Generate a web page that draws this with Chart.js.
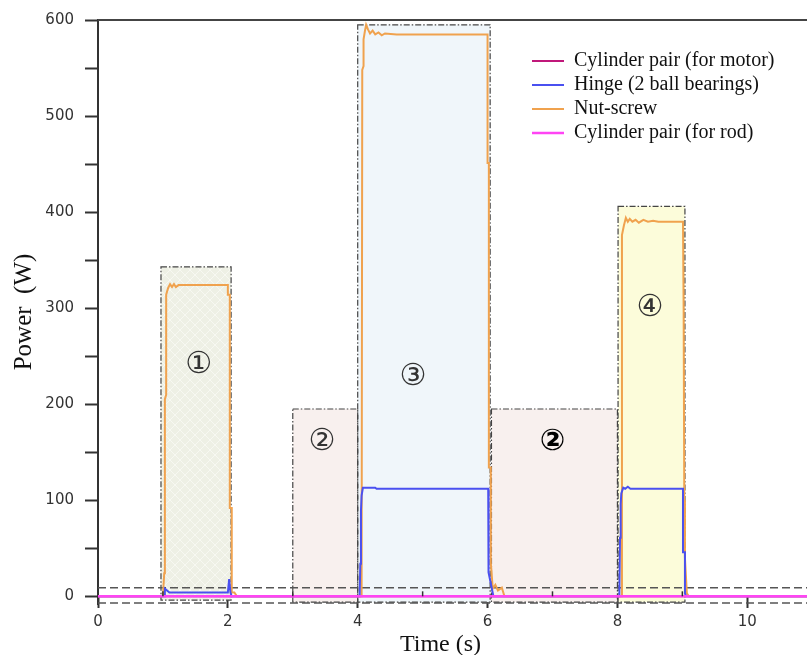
<!DOCTYPE html>
<html>
<head>
<meta charset="utf-8">
<script src="https://cdn.jsdelivr.net/npm/chart.js@4.4.1/dist/chart.umd.min.js"></script>
<style>
  html, body { margin: 0; padding: 0; background: #fff; }
  #wrap { width: 807px; height: 655px; }
</style>
</head>
<body>
<div id="wrap"><canvas id="powerChart"></canvas></div>
<script>
// === Data ===
const seriesNames = ['Cylinder pair (for motor)', 'Hinge (2 ball bearings)', 'Nut-screw', 'Cylinder pair (for rod)'];

const motorTime = [0, 10.92];
const motorPower = [0, 0];

const hingeTime = [0, 1.02, 1.03, 1.1, 2.0, 2.02, 2.04, 2.06,
  4.03, 4.04, 4.05, 4.06, 4.08, 4.27, 4.29, 6.01, 6.01, 6.02, 6.09,
  8.03, 8.04, 8.05, 8.06, 8.09, 8.12, 8.16, 8.2, 9.01, 9.01, 9.04, 9.04, 9.06, 10.92];
const hingePower = [0, 0, 8, 4, 4, 18, 4, 0,
  0, 34, 89, 105, 113, 113, 112, 112, 89, 25, 0,
  0, 61, 96, 107, 113, 112, 114, 112, 112, 46, 46, 3, 0, 0];

const nutTime = [0, 1.0, 1.02, 1.03, 1.05, 1.05, 1.08, 1.11, 1.14, 1.17, 1.2, 1.24, 2.0, 2.0, 2.03, 2.03, 2.06, 2.06, 2.1, 2.14,
  4.06, 4.07, 4.09, 4.09, 4.11, 4.13, 4.16, 4.19, 4.23, 4.27, 4.32, 4.37, 4.42, 4.6, 6.0, 6.0, 6.02, 6.02, 6.05, 6.05, 6.08, 6.12, 6.16, 6.22, 6.26,
  8.06, 8.07, 8.1, 8.13, 8.16, 8.19, 8.23, 8.28, 8.33, 8.4, 8.47, 8.55, 8.63, 9.01, 9.02, 9.03, 9.04, 9.07, 9.1, 10.92];
const nutPower = [0, 0, 24, 205, 210, 314, 321, 325, 322, 325, 322, 324, 324, 314, 314, 92, 92, 4, 4, 0,
  0, 548, 552, 580, 588, 595, 590, 586, 589, 585, 587, 584, 586, 585, 585, 451, 451, 134, 134, 35, 8, 12, 6, 9, 0,
  0, 376, 386, 394, 390, 393, 390, 392, 389, 392, 390, 391, 390, 390, 300, 100, 40, 3, 0, 0];

const rodTime = [0, 10.92];
const rodPower = [0, 0];

// operating phases (shaded boxes)
const phaseStart = [0.97, 3.0, 4.0, 6.06, 8.01];
const phaseEnd = [2.05, 4.0, 6.04, 8.0, 9.04];
const phaseTop = [343, 195, 595, 195, 406];
const phaseBottom = [-4, -6, -6, -6, -6];
const phaseLabels = ['①', '②', '③', '②', '④'];
const phaseLabelX = [1.55, 3.45, 4.85, 7.0, 8.5];
const phaseLabelY = [241, 160, 228, 160, 300];

const bandLimits = [9, -7];
const minorTimeTicks = [1, 3, 5, 7, 9];

// === Styles ===
const seriesColors = ['#c0187a', '#4a50f0', '#f0a24e', '#ff44f4'];
const seriesWidths = [2, 2, 2, 2.5];
const seriesOrder = [3, 1, 2, 0];
const phaseFills = ['#eef0e5', '#f8f0ee', '#f0f6fa', '#f8f0ee', '#fcfcda'];
const phaseLabelColors = ['#333', '#333', '#333', '#000', '#333'];
const phaseLabelWeights = ['normal', 'normal', 'normal', 'bold', 'normal'];
const titleShift = 24;

function toPoints(xs, ys) {
  return xs.map((x, i) => ({ x, y: ys[i] }));
}

function hatch(ctx, base, line) {
  const c = document.createElement('canvas');
  c.width = c.height = 10;
  const g = c.getContext('2d');
  g.fillStyle = base;
  g.fillRect(0, 0, 10, 10);
  g.strokeStyle = line;
  g.lineWidth = 1;
  g.beginPath();
  g.moveTo(0, 0); g.lineTo(10, 10);
  g.moveTo(10, 0); g.lineTo(0, 10);
  g.stroke();
  return ctx.createPattern(c, 'repeat');
}

const seriesData = [
  toPoints(motorTime, motorPower),
  toPoints(hingeTime, hingePower),
  toPoints(nutTime, nutPower),
  toPoints(rodTime, rodPower)
];

// === Plugin: phase boxes, band lines, frame bits ===
const phasePlugin = {
  id: 'phases',
  afterLayout(chart) {
    // legend sits inside the plot, top right
    chart.legend.left = 528;
    chart.legend.top = 47;
  },
  beforeDraw(chart) {
    // x title sits a little left of the plot centre
    chart.scales.x.right -= titleShift;
  },
  beforeDatasetsDraw(chart) {
    chart.scales.x.right += titleShift;
    const { ctx, chartArea, scales: { x, y } } = chart;
    ctx.save();
    phaseStart.forEach((s, i) => {
      const x0 = x.getPixelForValue(s);
      const x1 = x.getPixelForValue(phaseEnd[i]);
      const y0 = y.getPixelForValue(phaseTop[i]);
      const y1 = y.getPixelForValue(phaseBottom[i]);
      ctx.fillStyle = i === 0 ? hatch(ctx, phaseFills[i], '#f7f8f2') : phaseFills[i];
      ctx.fillRect(x0, y0, x1 - x0, y1 - y0);
    });
    phaseStart.forEach((s, i) => {
      const x0 = x.getPixelForValue(s);
      const x1 = x.getPixelForValue(phaseEnd[i]);
      const y0 = y.getPixelForValue(phaseTop[i]);
      const y1 = y.getPixelForValue(phaseBottom[i]);
      ctx.strokeStyle = '#444';
      ctx.lineWidth = 1.2;
      ctx.setLineDash([6, 2, 1.5, 2]);
      ctx.strokeRect(x0, y0, x1 - x0, y1 - y0);
    });
    ctx.setLineDash([]);
    ctx.textAlign = 'center';
    ctx.textBaseline = 'middle';
    phaseLabels.forEach((t, i) => {
      ctx.font = phaseLabelWeights[i] + " 30px 'DejaVu Sans'";
      ctx.fillStyle = phaseLabelColors[i];
      ctx.fillText(t, x.getPixelForValue(phaseLabelX[i]), y.getPixelForValue(phaseLabelY[i]));
    });
    ctx.strokeStyle = '#555';
    ctx.lineWidth = 1.5;
    ctx.setLineDash([8, 4]);
    bandLimits.forEach(v => {
      const py = y.getPixelForValue(v);
      ctx.beginPath();
      ctx.moveTo(chartArea.left, py);
      ctx.lineTo(chartArea.right, py);
      ctx.stroke();
    });
    ctx.restore();
  },
  afterDraw(chart) {
    const { ctx, chartArea, scales: { x, y } } = chart;
    ctx.save();
    ctx.strokeStyle = '#444';
    ctx.lineWidth = 2;
    ctx.beginPath();
    ctx.moveTo(chartArea.left, chartArea.top);
    ctx.lineTo(chartArea.right, chartArea.top);
    ctx.stroke();
    const zero = y.getPixelForValue(0);
    ctx.strokeStyle = '#333';
    ctx.lineWidth = 1.5;
    minorTimeTicks.forEach(v => {
      const px = x.getPixelForValue(v);
      ctx.beginPath();
      ctx.moveTo(px, zero);
      ctx.lineTo(px, zero - 5);
      ctx.stroke();
    });
    ctx.restore();
  }
};

// === Chart ===
const ctx = document.getElementById('powerChart').getContext('2d');
new Chart(ctx, {
  type: 'line',
  data: {
    datasets: seriesNames.map((name, i) => ({
      label: name,
      data: seriesData[i],
      borderColor: seriesColors[i],
      backgroundColor: seriesColors[i],
      borderWidth: seriesWidths[i],
      order: seriesOrder[i],
      pointRadius: 0,
      tension: 0,
      fill: false
    }))
  },
  options: {
    responsive: true,
    maintainAspectRatio: false,
    animation: false,
    layout: { padding: { top: 17, right: 0, bottom: 51, left: 0 } },
    plugins: {
      tooltip: { enabled: false },
      legend: {
        position: 'chartArea',
        align: 'start',
        labels: {
          usePointStyle: true,
          pointStyle: 'line',
          pointStyleWidth: 32,
          padding: 4,
          color: '#111',
          font: { family: "'Liberation Serif'", size: 20 },
          sort: (a, b) => a.datasetIndex - b.datasetIndex
        }
      }
    },
    scales: {
      x: {
        type: 'linear',
        min: 0,
        max: 10.92,
        position: { y: 0 },
        border: { color: '#333', width: 2 },
        grid: { drawOnChartArea: false, tickLength: 11, tickColor: '#333', tickWidth: 2 },
        ticks: {
          stepSize: 2,
          includeBounds: false,
          padding: 6,
          color: '#333',
          font: { family: "'DejaVu Sans'", size: 15 }
        },
        title: {
          display: true,
          text: 'Time (s)',
          color: '#111',
          padding: { top: -7, bottom: 0 },
          font: { family: "'Liberation Serif'", size: 24 }
        }
      },
      y: {
        min: -8,
        max: 600,
        afterFit: s => { s.width = 98; },
        border: { color: '#333', width: 2 },
        grid: { drawOnChartArea: false, tickLength: 13, tickColor: '#333', tickWidth: 2 },
        ticks: {
          stepSize: 50,
          includeBounds: false,
          padding: 11,
          color: '#333',
          font: { family: "'DejaVu Sans'", size: 15 },
          callback: v => (v % 100 === 0 ? v : '')
        },
        title: {
          display: true,
          text: 'Power  (W)',
          color: '#111',
          padding: { top: 9, bottom: 0 },
          font: { family: "'Liberation Serif'", size: 25 }
        }
      }
    }
  },
  plugins: [phasePlugin]
});
</script>
</body>
</html>
